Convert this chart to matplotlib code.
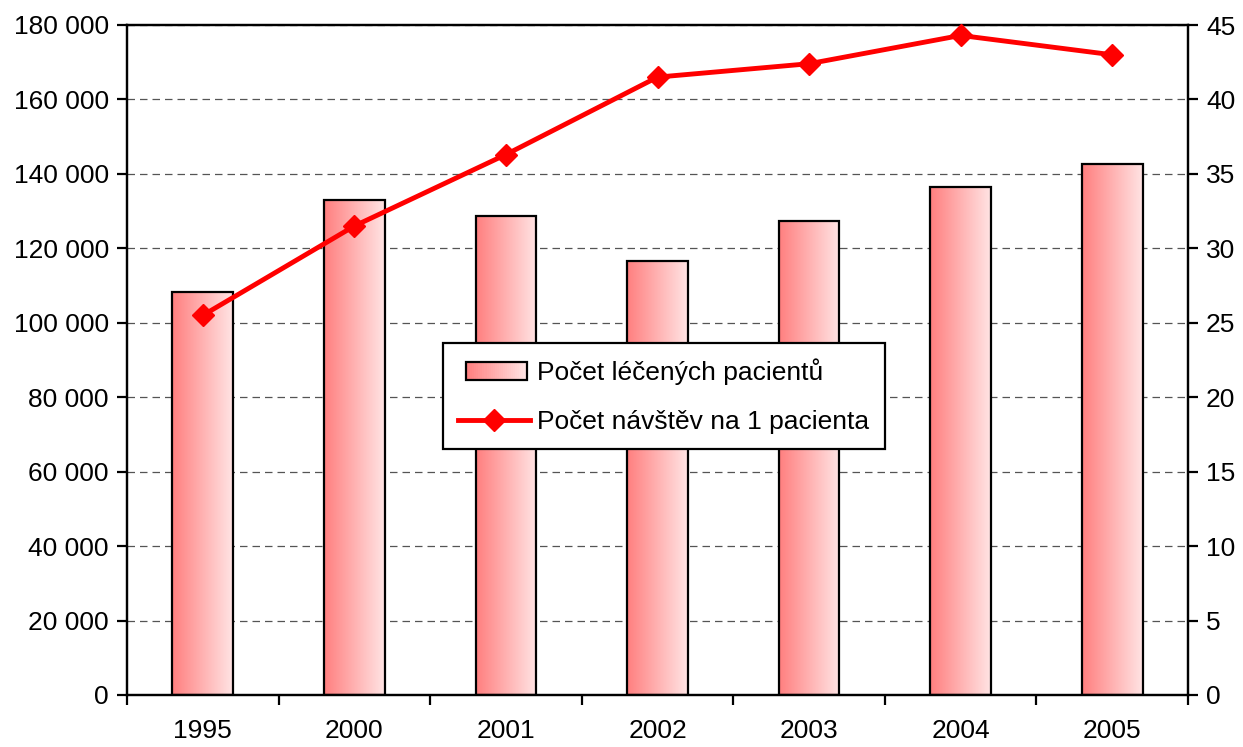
import matplotlib
matplotlib.use("Agg")
import matplotlib.pyplot as plt
import numpy as np
from matplotlib.ticker import FuncFormatter, MultipleLocator, FixedLocator
from matplotlib.colors import LinearSegmentedColormap
from matplotlib.lines import Line2D
from matplotlib.patches import Rectangle
from matplotlib.legend_handler import HandlerBase

years = ["1995", "2000", "2001", "2002", "2003", "2004", "2005"]
patients = [108300, 133000, 128700, 116600, 127300, 136500, 142700]
visits_per_patient = [25.5, 31.5, 36.3, 41.5, 42.4, 44.3, 43.0]
bar_label = "Počet léčených pacientů"
line_label = "Počet návštěv na 1 pacienta"

plt.rcParams['font.family'] = ['Liberation Sans', 'DejaVu Sans']
fs = 19

cmap = LinearSegmentedColormap.from_list("g", ["#FF7F7F", "#FFE4E4"])


class GradientHandler(HandlerBase):
    def create_artists(self, legend, orig_handle, xdescent, ydescent, width,
                       height, fontsize, trans):
        arts = []
        n = 30
        w = width * 0.85
        x0 = -xdescent + (width - w) * 0.75
        for i in range(n):
            r = Rectangle((x0 + w * i / n, -ydescent), w / n + 0.3,
                          height, facecolor=cmap(i / (n - 1)), edgecolor='none',
                          transform=trans)
            arts.append(r)
        arts.append(Rectangle((x0, -ydescent), w, height,
                              facecolor='none', edgecolor='black', linewidth=1.6,
                              transform=trans))
        return arts


fig = plt.figure(figsize=(12.43, 7.47), dpi=100)
ax = fig.add_axes([127/1243, 52/747, (1188-127)/1243, 670/747])
x = np.arange(len(years))
bars = ax.bar(x, patients, width=0.40, facecolor='none', edgecolor='black',
              linewidth=1.6, zorder=3)
grad = np.linspace(0, 1, 256).reshape(1, -1)
for b in bars:
    bx, bw, bh = b.get_x(), b.get_width(), b.get_height()
    ax.imshow(grad, cmap=cmap, aspect='auto', extent=[bx, bx + bw, 0, bh],
              zorder=2, interpolation='bilinear')
ax.set_xlim(-0.5, len(years) - 0.5)
ax.set_ylim(0, 180000)
ax.yaxis.set_major_locator(MultipleLocator(20000))
ax.yaxis.set_major_formatter(FuncFormatter(lambda v, p: f"{int(v):,}".replace(",", " ")))
ax.set_xticks(x)
ax.set_xticklabels(years)
ax.xaxis.set_minor_locator(FixedLocator(np.arange(-0.5, len(years), 1.0)))
ax.tick_params(axis='x', which='major', length=0, labelsize=fs, pad=17)
ax.tick_params(axis='x', which='minor', length=7, width=1.6, direction='out')
ax.tick_params(axis='y', length=7, width=1.6, direction='out', labelsize=fs, pad=6)
for s in ax.spines.values():
    s.set_linewidth(1.6)
ax.yaxis.grid(True, linestyle=(0, (6, 4)), color='#555555', linewidth=0.9, zorder=0)
ax.set_axisbelow(True)

ax2 = ax.twinx()
ax2.plot(x, visits_per_patient, color='#FF0000', linewidth=3.5, marker='D',
         markersize=11, zorder=5, clip_on=False)
ax2.set_ylim(0, 45)
ax2.yaxis.set_major_locator(MultipleLocator(5))
ax2.tick_params(axis='y', length=7, width=1.6, direction='out', labelsize=fs, pad=6)
for s in ax2.spines.values():
    s.set_linewidth(1.6)

bar_handle = Rectangle((0, 0), 1, 1)
handles = [bar_handle,
           Line2D([], [], color='#FF0000', linewidth=3.5, marker='D', markersize=11)]
leg = ax2.legend(handles, [bar_label, line_label], loc='upper left',
                 bbox_to_anchor=((443-127)/1061, (695-343)/670), borderaxespad=0,
                 fontsize=fs, frameon=True, fancybox=False, edgecolor='black',
                 framealpha=1, handlelength=2.7, handleheight=0.65, borderpad=0.58,
                 labelspacing=0.95, handletextpad=0.3,
                 handler_map={Rectangle: GradientHandler()})
leg.get_frame().set_linewidth(1.6)

fig.savefig("out.png", dpi=100)
